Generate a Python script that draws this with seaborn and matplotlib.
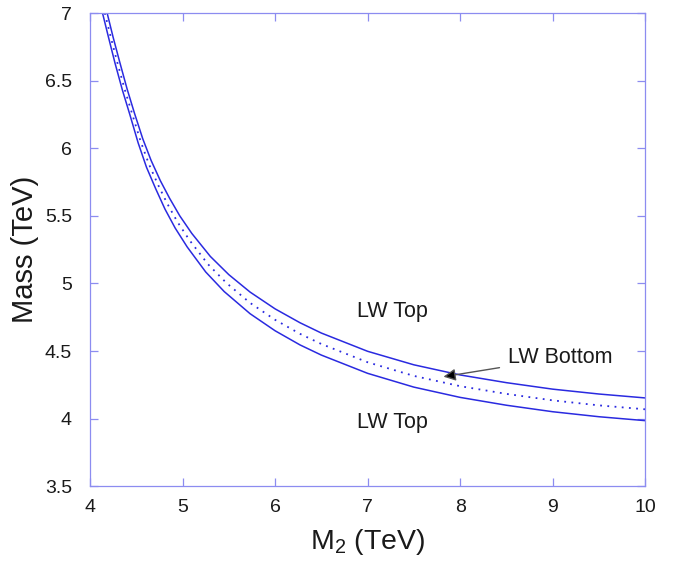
import numpy as np
import pandas as pd
import seaborn as sns
import matplotlib.pyplot as plt
from matplotlib.ticker import FormatStrFormatter, MultipleLocator

# ---- data (M2 in TeV, mass in TeV)
upper_x = [4.185, 4.25, 4.32, 4.40, 4.48, 4.57, 4.66, 4.76, 4.86, 4.97, 5.10, 5.30,
           5.50, 5.73, 6.00, 6.27, 6.50, 7.00, 7.50, 8.00, 8.50, 9.00, 9.50, 10.0]
upper_y = [7.00, 6.82, 6.64, 6.44, 6.26, 6.07, 5.91, 5.76, 5.63, 5.50, 5.37, 5.20,
           5.065, 4.936, 4.812, 4.709, 4.633, 4.498, 4.398, 4.323, 4.266, 4.218, 4.182, 4.153]

middle_x = [4.16, 4.225, 4.295, 4.375, 4.455, 4.545, 4.635, 4.735, 4.835, 4.945, 5.075, 5.275,
            5.475, 5.73, 6.00, 6.27, 6.50, 7.00, 7.50, 8.00, 8.50, 9.00, 9.50, 10.0]
middle_y = [7.00, 6.82, 6.635, 6.435, 6.255, 6.055, 5.885, 5.73, 5.59, 5.455, 5.32, 5.142,
            5.003, 4.856, 4.731, 4.627, 4.552, 4.417, 4.316, 4.240, 4.183, 4.135, 4.098, 4.069]

lower_x = [4.135, 4.20, 4.27, 4.35, 4.43, 4.52, 4.61, 4.71, 4.81, 4.92, 5.05, 5.25,
           5.45, 5.73, 6.00, 6.27, 6.50, 7.00, 7.50, 8.00, 8.50, 9.00, 9.50, 10.0]
lower_y = [7.00, 6.82, 6.63, 6.43, 6.25, 6.04, 5.86, 5.70, 5.55, 5.41, 5.27, 5.085,
           4.94, 4.776, 4.65, 4.545, 4.47, 4.335, 4.233, 4.157, 4.099, 4.051, 4.014, 3.985]

df_up = pd.DataFrame({"M2": upper_x, "Mass": upper_y})
df_mid = pd.DataFrame({"M2": middle_x, "Mass": middle_y})
df_lo = pd.DataFrame({"M2": lower_x, "Mass": lower_y})

# ---- style
sns.set_theme(style="white")
plt.rcParams["font.family"] = ["Liberation Sans", "DejaVu Sans"]
plt.rcParams["mathtext.fontset"] = "custom"
plt.rcParams["mathtext.rm"] = "Liberation Sans"

frame_col = "#8c8cf0"
line_col = "#2a2ae0"
text_col = "#1a1a1a"

fig = plt.figure(figsize=(6.82, 5.68), dpi=100)
ax = fig.add_axes([0.132, 0.144, 0.814, 0.833])

sns.lineplot(data=df_up, x="M2", y="Mass", ax=ax, color=line_col, lw=1.1,
             estimator=None, sort=False)
sns.lineplot(data=df_mid, x="M2", y="Mass", ax=ax, color=line_col, lw=1.3,
             estimator=None, sort=False, linestyle=(0, (1, 3)))
sns.lineplot(data=df_lo, x="M2", y="Mass", ax=ax, color=line_col, lw=1.1,
             estimator=None, sort=False)

ax.set_xlim(4, 10)
ax.set_ylim(3.5, 7)
ax.xaxis.set_major_locator(MultipleLocator(1))
ax.yaxis.set_major_locator(MultipleLocator(0.5))
ax.yaxis.set_major_formatter(FormatStrFormatter("%g"))

for s in ax.spines.values():
    s.set_color(frame_col)
    s.set_linewidth(0.9)

ax.tick_params(direction="in", length=6, width=0.9, color=frame_col,
               top=True, right=True, bottom=True, left=True,
               labelsize=14, labelcolor=text_col)
ax.tick_params(axis="y", pad=13)
ax.tick_params(axis="x", pad=9)

ax.set_xlabel(r"$\mathregular{M_2}$ (TeV)", fontsize=20.5, color=text_col, labelpad=8)
ax.set_ylabel("Mass (TeV)", fontsize=21, color=text_col, labelpad=4)

# ---- annotations
ax.text(7.27, 4.79, "LW Top", fontsize=15.5, color=text_col, ha="center", va="center")
ax.text(7.27, 3.97, "LW Top", fontsize=15.5, color=text_col, ha="center", va="center")
ax.annotate("LW Bottom", xy=(7.82, 4.31), xytext=(8.52, 4.45),
            fontsize=15.5, color=text_col, ha="left", va="center",
            arrowprops=dict(arrowstyle="-|>", color="#555555", lw=1.0,
                            shrinkA=4, shrinkB=0, mutation_scale=18,
                            fc="black", ec="#555555"))

fig.savefig("out.png", dpi=100)
